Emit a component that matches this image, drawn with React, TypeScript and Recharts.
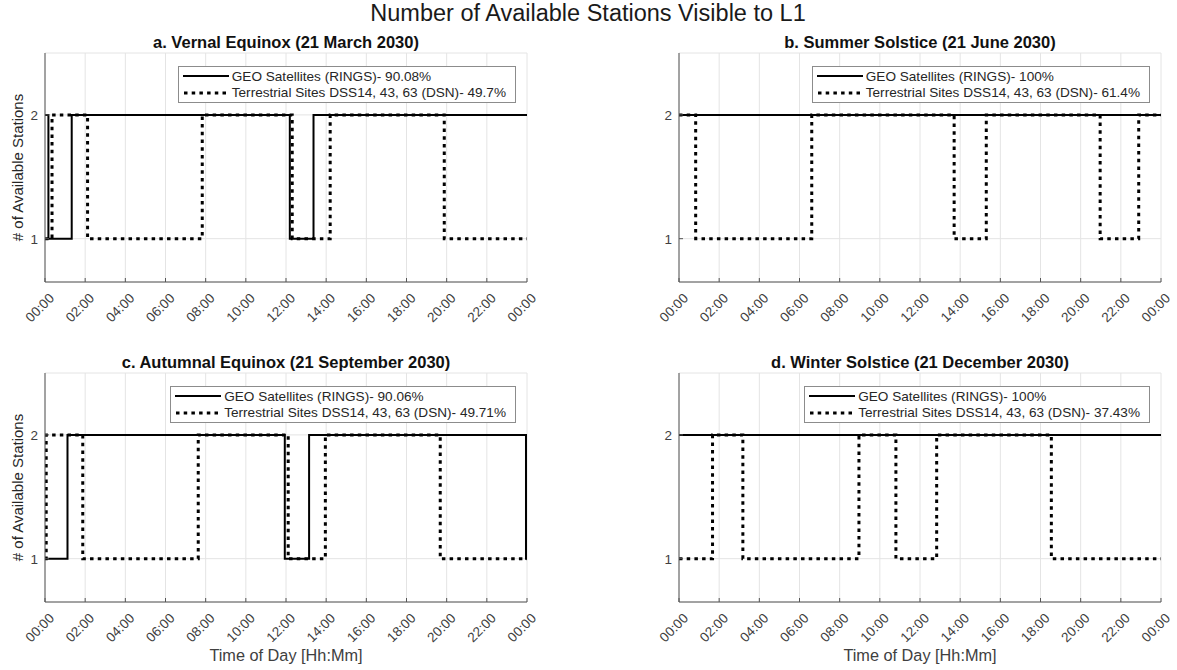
import React from "react";
import { LineChart, Line, XAxis, YAxis, CartesianGrid } from "recharts";

const FONT = '"Liberation Sans", Arial, Helvetica, sans-serif';

// axis ticks (hours of day) and labels
const hourTicks = [0, 2, 4, 6, 8, 10, 12, 14, 16, 18, 20, 22, 24];
const hourLabels = ["00:00", "02:00", "04:00", "06:00", "08:00", "10:00", "12:00", "14:00", "16:00", "18:00", "20:00", "22:00", "00:00"];
const stationTicks = [1, 2];

const mainTitle = "Number of Available Stations Visible to L1";
const panelTitles = [
  "a. Vernal Equinox (21 March 2030)",
  "b. Summer Solstice (21 June 2030)",
  "c. Autumnal Equinox (21 September 2030)",
  "d. Winter Solstice (21 December 2030)",
];
const geoShares = ["90.08%", "100%", "90.06%", "100%"];
const dsnShares = ["49.7%", "61.4%", "49.71%", "37.43%"];

// step changes: time in hours, station count held until the next time
const geoTimesA = [0, 0.17, 1.33, 12.19, 13.37, 24];
const geoCountsA = [2, 1, 2, 1, 2, 2];
const dsnTimesA = [0, 0.35, 2.12, 7.83, 12.31, 14.2, 19.88, 24];
const dsnCountsA = [1, 2, 1, 2, 1, 2, 1, 1];

const geoTimesB = [0, 24];
const geoCountsB = [2, 2];
const dsnTimesB = [0, 0.83, 6.61, 13.7, 15.3, 20.97, 22.89, 24];
const dsnCountsB = [2, 1, 2, 1, 2, 1, 2, 2];

const geoTimesC = [0, 1.12, 11.94, 13.15, 23.95, 24];
const geoCountsC = [1, 2, 1, 2, 1, 1];
const dsnTimesC = [0, 0.06, 1.88, 7.63, 12.11, 13.96, 19.68, 24];
const dsnCountsC = [1, 2, 1, 2, 1, 2, 1, 1];

const geoTimesD = [0, 24];
const geoCountsD = [2, 2];
const dsnTimesD = [0, 1.67, 3.18, 8.96, 10.8, 12.83, 18.54, 24];
const dsnCountsD = [1, 2, 1, 2, 1, 2, 1, 1];

const PLOT_W = 482;
const PLOT_H = 229;
const Y_AXIS_W = 45;
const M_TOP = 10;
const M_RIGHT = 20;
const X_AXIS_H = 60;
const AXIS_COLOR = "#555";
const TICK_COLOR = "#404040";
const DOTS = "3.5 4.2";

const zip = (ts: number[], vs: number[]) => ts.map((t, i) => ({ t, v: vs[i] }));

function HourTick(props: any) {
  const { x, y, payload } = props;
  const label = hourLabels[hourTicks.indexOf(payload.value)];
  const ex = x + 10;
  const ey = y + 17;
  return (
    <g>
      <line x1={x} y1={y} x2={x} y2={y - 4} stroke={AXIS_COLOR} />
      <text x={ex} y={ey} textAnchor="end" transform={`rotate(-45, ${ex}, ${ey})`}
        fill={TICK_COLOR} fontSize={13.5} fontFamily={FONT}>{label}</text>
    </g>
  );
}

function CountTick(props: any) {
  const { x, y, payload } = props;
  return (
    <g>
      <line x1={x} y1={y} x2={x + 4} y2={y} stroke={AXIS_COLOR} />
      <text x={x - 7} y={y} dy="0.36em" textAnchor="end" fill={TICK_COLOR} fontSize={13.5} fontFamily={FONT}>
        {payload.value}
      </text>
    </g>
  );
}

function LegendBox({ plotLeft, plotTop, geo, dsn }: { plotLeft: number; plotTop: number; geo: string; dsn: string }) {
  const row = { display: "flex", alignItems: "center", height: 16.5, whiteSpace: "nowrap" as const };
  return (
    <div style={{
      position: "absolute", right: 1177 - (plotLeft + PLOT_W - 11), top: plotTop + 13,
      background: "#fff", border: "1px solid #8c8c8c", padding: "1px 9px 1px 4px",
      fontFamily: FONT, fontSize: 13.6, color: "#262626",
    }}>
      <div style={row}>
        <svg width={46} height={8} style={{ marginRight: 3 }}><line x1={0} y1={4} x2={46} y2={4} stroke="#000" strokeWidth={2} /></svg>
        GEO Satellites (RINGS)- {geo}
      </div>
      <div style={row}>
        <svg width={46} height={8} style={{ marginRight: 3 }}><line x1={1} y1={4} x2={46} y2={4} stroke="#000" strokeWidth={3} strokeDasharray={DOTS} /></svg>
        Terrestrial Sites DSS14, 43, 63 (DSN)- {dsn}
      </div>
    </div>
  );
}

function Panel({ left, top, geoT, geoV, dsnT, dsnV }: { left: number; top: number; geoT: number[]; geoV: number[]; dsnT: number[]; dsnV: number[] }) {
  return (
    <div style={{ position: "absolute", left: left - Y_AXIS_W, top: top - M_TOP }}>
      <LineChart width={Y_AXIS_W + PLOT_W + M_RIGHT} height={M_TOP + PLOT_H + X_AXIS_H}
        margin={{ top: M_TOP, right: M_RIGHT, bottom: 0, left: 0 }}>
        <CartesianGrid stroke="#e4e4e4" />
        <XAxis dataKey="t" type="number" domain={[0, 24]} ticks={hourTicks} interval={0} height={X_AXIS_H}
          tickSize={0} tickMargin={0} tickLine={false} axisLine={{ stroke: AXIS_COLOR }}
          tick={(p: any) => <HourTick {...p} />} allowDataOverflow />
        <YAxis type="number" domain={[0.65, 2.5]} ticks={stationTicks} width={Y_AXIS_W}
          tickSize={0} tickMargin={0} tickLine={false} axisLine={{ stroke: AXIS_COLOR }}
          tick={(p: any) => <CountTick {...p} />} allowDataOverflow />
        <Line data={zip(geoT, geoV)} dataKey="v" type="stepAfter" stroke="#000" strokeWidth={2}
          dot={false} activeDot={false} isAnimationActive={false} />
        <Line data={zip(dsnT, dsnV)} dataKey="v" type="stepAfter" stroke="#000" strokeWidth={3}
          strokeDasharray={DOTS} dot={false} activeDot={false} isAnimationActive={false} />
      </LineChart>
    </div>
  );
}

export default function App() {
  const panels = [
    { left: 45, top: 53, geoT: geoTimesA, geoV: geoCountsA, dsnT: dsnTimesA, dsnV: dsnCountsA },
    { left: 679, top: 53, geoT: geoTimesB, geoV: geoCountsB, dsnT: dsnTimesB, dsnV: dsnCountsB },
    { left: 45, top: 373, geoT: geoTimesC, geoV: geoCountsC, dsnT: dsnTimesC, dsnV: dsnCountsC },
    { left: 679, top: 373, geoT: geoTimesD, geoV: geoCountsD, dsnT: dsnTimesD, dsnV: dsnCountsD },
  ];
  return (
    <div style={{ position: "absolute", left: 0, top: 0, width: 1177, height: 670, background: "#fff", overflow: "hidden" }}>
      {panels.map((p, i) => <Panel key={i} {...p} />)}
      {panels.map((p, i) => (
        <LegendBox key={"l" + i} plotLeft={p.left} plotTop={p.top} geo={geoShares[i]} dsn={dsnShares[i]} />
      ))}
      <svg width={1177} height={670} style={{ position: "absolute", left: 0, top: 0, pointerEvents: "none" }}
        fontFamily={FONT}>
        <text x={588} y={21} textAnchor="middle" fontSize={23.5} fill="#1a1a1a">{mainTitle}</text>
        {panels.map((p, i) => (
          <text key={i} x={p.left + PLOT_W / 2} y={p.top - 5} textAnchor="middle" fontSize={16.5}
            fontWeight="bold" fill="#111">{panelTitles[i]}</text>
        ))}
        {[panels[0], panels[2]].map((p, i) => (
          <text key={"y" + i} x={23} y={p.top + PLOT_H / 2} textAnchor="middle" fontSize={15} fill="#262626"
            transform={`rotate(-90, 23, ${p.top + PLOT_H / 2})`}># of Available Stations</text>
        ))}
        {[panels[2], panels[3]].map((p, i) => (
          <text key={"x" + i} x={p.left + PLOT_W / 2} y={661} textAnchor="middle" fontSize={16.3} fill="#404040">
            Time of Day [Hh:Mm]</text>
        ))}
      </svg>
    </div>
  );
}
